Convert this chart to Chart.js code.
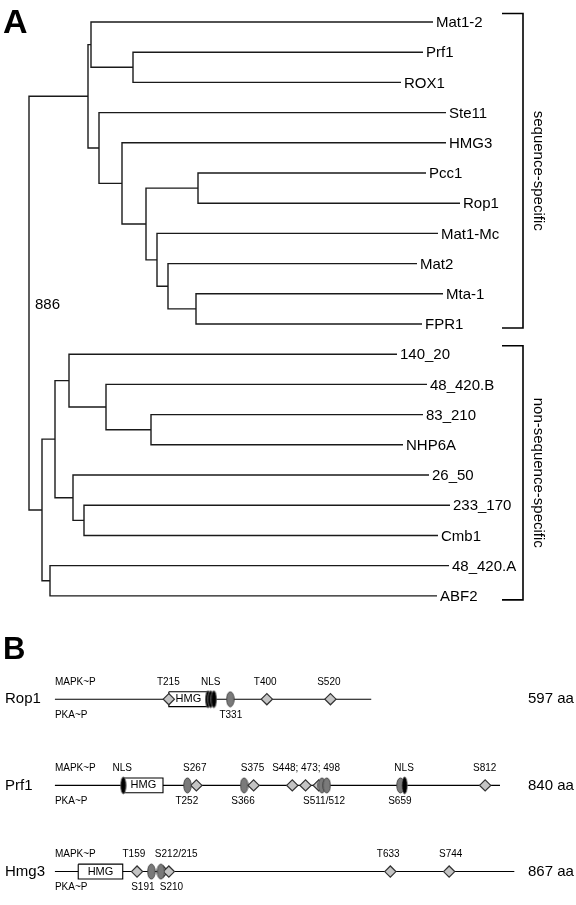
<!DOCTYPE html>
<html>
<head>
<meta charset="utf-8">
<script src="https://cdn.jsdelivr.net/npm/chart.js@4.4.1/dist/chart.umd.min.js"></script>
<style>
body { margin: 0; background: #fff; width: 576px; height: 905px; overflow: hidden; }
canvas { position: absolute; left: 0; }
</style>
</head>
<body>
<canvas id="tree" width="576" height="620" style="top:0"></canvas>
<canvas id="domains" width="576" height="285" style="top:620px"></canvas>
<script>
var FONT = "'Liberation Sans', Arial, sans-serif";

// panel A - leaves top to bottom, with distance of each tip from the root
var leafNames = ['Mat1-2', 'Prf1', 'ROX1', 'Ste11', 'HMG3', 'Pcc1', 'Rop1', 'Mat1-Mc', 'Mat2', 'Mta-1', 'FPR1',
    '140_20', '48_420.B', '83_210', 'NHP6A', '26_50', '233_170', 'Cmb1', '48_420.A', 'ABF2'];
var leafDepth = [404, 394, 372, 417, 417, 397, 431, 409, 388, 414, 393,
    368, 398, 394, 374, 400, 421, 409, 420, 408];

// internal nodes
var nodeNames = ['root', 'seq', 'a1', 'a2', 'b', 'c', 'd', 'e', 'f', 'g', 'h',
    'nonseq', 'n1', 'n2', 'n3', 'n4', 'n5', 'n6', 'n7'];
var nodeDepth = [0, 59, 62, 104, 70, 93, 117, 169, 128, 139, 167,
    13, 26, 40, 77, 122, 44, 55, 21];
var nodeKids = [['seq', 'nonseq'], ['a1', 'b'], ['Mat1-2', 'a2'], ['Prf1', 'ROX1'], ['Ste11', 'c'], ['HMG3', 'd'],
    ['e', 'f'], ['Pcc1', 'Rop1'], ['Mat1-Mc', 'g'], ['Mat2', 'h'], ['Mta-1', 'FPR1'],
    ['n1', 'n7'], ['n2', 'n5'], ['140_20', 'n3'], ['48_420.B', 'n4'], ['83_210', 'NHP6A'],
    ['26_50', 'n6'], ['233_170', 'Cmb1'], ['48_420.A', 'ABF2']];
var rootSupport = '886';

var groupNames = ['sequence-specific', 'non-sequence-specific'];
var groupFirst = ['Mat1-2', '140_20'];
var groupLast = ['FPR1', 'ABF2'];

// panel B
var proteins = ['Rop1', 'Prf1', 'Hmg3'];
var proteinLength = [597, 840, 867];
var hmgStart = [215, 130, 44];
var hmgEnd = [289, 204, 128];
var diamondSites = [[215, 400, 520], [267, 375, 448, 473, 498, 812], [155, 204, 215, 633, 744]];
var ovalSites = [[331], [250, 357, 504, 513, 652], [182, 200]];
var nlsSites = [[289, 294, 300], [129, 660], []];
var labelsAbove = [['T215', 'NLS', 'T400', 'S520'],
    ['NLS', 'S267', 'S375', 'S448; 473; 498', 'NLS', 'S812'],
    ['T159', 'S212/215', 'T633', 'S744']];
var labelsAbovePos = [[214, 294, 397, 517], [127, 264, 373, 474, 659, 811], [149, 229, 629, 747]];
var labelsBelow = [['T331'], ['T252', 'S366', 'S511/512', 'S659'], ['S191', 'S210']];
var labelsBelowPos = [[332], [249, 355, 508, 651], [166, 220]];


function place(name) {
    var li = leafNames.indexOf(name);
    if (li >= 0) return {x: leafDepth[li], y: li};
    var ni = nodeNames.indexOf(name);
    var a = place(nodeKids[ni][0]), b = place(nodeKids[ni][1]);
    return {x: nodeDepth[ni], y: (a.y + b.y) / 2};
}

var treeSets = nodeNames.map(function (n, i) {
    var a = place(nodeKids[i][0]), b = place(nodeKids[i][1]), d = nodeDepth[i];
    return {
        data: [{x: a.x, y: a.y}, {x: d, y: a.y}, {x: d, y: b.y}, {x: b.x, y: b.y}],
        showLine: true,
        borderColor: '#1a1a1a',
        borderWidth: 1.4,
        pointRadius: 0,
        tension: 0
    };
});

var treeText = {
    id: 'treeText',
    afterDatasetsDraw: function (chart) {
        var ctx = chart.ctx, xs = chart.scales.x, ys = chart.scales.y;
        ctx.save();
        ctx.fillStyle = '#000';
        ctx.font = '15px ' + FONT;
        ctx.textBaseline = 'middle';
        leafNames.forEach(function (n, i) {
            ctx.fillText(n, xs.getPixelForValue(leafDepth[i]) + 3, ys.getPixelForValue(i) + 1);
        });
        var r = place('root');
        ctx.fillText(rootSupport, xs.getPixelForValue(r.x) + 6, ys.getPixelForValue(r.y) + 2);

        // group brackets
        var bx = xs.getPixelForValue(494);
        ctx.strokeStyle = '#000';
        ctx.lineWidth = 1.6;
        groupNames.forEach(function (g, i) {
            var top = ys.getPixelForValue(leafNames.indexOf(groupFirst[i])) - 8.5;
            var bot = ys.getPixelForValue(leafNames.indexOf(groupLast[i])) + 4;
            ctx.beginPath();
            ctx.moveTo(bx - 21, top);
            ctx.lineTo(bx, top);
            ctx.lineTo(bx, bot);
            ctx.lineTo(bx - 21, bot);
            ctx.stroke();
            ctx.save();
            ctx.translate(bx + 15, (top + bot) / 2);
            ctx.rotate(Math.PI / 2);
            ctx.textAlign = 'center';
            ctx.fillText(g, 0, 0);
            ctx.restore();
        });

        ctx.font = 'bold 34px ' + FONT;
        ctx.textBaseline = 'alphabetic';
        ctx.fillText('A', 3, 33);
        ctx.restore();
    }
};

new Chart(document.getElementById('tree'), {
    type: 'scatter',
    data: {datasets: treeSets},
    options: {
        responsive: false,
        animation: false,
        events: [],
        layout: {padding: 0},
        plugins: {legend: {display: false}, tooltip: {enabled: false}},
        scales: {
            x: {type: 'linear', display: false, min: -29, max: 547},
            y: {type: 'linear', display: false, min: -0.728, max: 19.8, reverse: true}
        }
    },
    plugins: [treeText]
});


function oval(w, h, fill, stroke) {
    var c = document.createElement('canvas');
    c.width = w + 2;
    c.height = h + 2;
    var g = c.getContext('2d');
    g.beginPath();
    g.ellipse(c.width / 2, c.height / 2, w / 2, h / 2, 0, 0, 2 * Math.PI);
    g.fillStyle = fill;
    g.fill();
    g.strokeStyle = stroke;
    g.lineWidth = 0.8;
    g.stroke();
    return c;
}

function sitePoints(list) {
    var out = [];
    list.forEach(function (sites, row) {
        sites.forEach(function (p) { out.push({x: p, y: row}); });
    });
    return out;
}

var domainSets = [];
proteins.forEach(function (p, i) {
    domainSets.push({
        type: 'line',
        data: [{x: 0, y: i}, {x: proteinLength[i], y: i}],
        borderColor: '#000', borderWidth: 1.1, pointRadius: 0, order: 4
    });
    var h = 0.086;
    domainSets.push({
        type: 'line',
        data: [{x: hmgStart[i], y: i - h}, {x: hmgEnd[i], y: i - h}, {x: hmgEnd[i], y: i + h},
            {x: hmgStart[i], y: i + h}, {x: hmgStart[i], y: i - h}],
        borderColor: '#000', borderWidth: 1.1, backgroundColor: '#fff', fill: 'shape', pointRadius: 0, order: 3
    });
});
domainSets.push({
    data: sitePoints(diamondSites),
    pointStyle: 'rectRot', pointRadius: 5.6, backgroundColor: '#c4c4c4', borderColor: '#333', borderWidth: 1.2, order: 2
});
domainSets.push({
    data: sitePoints(ovalSites),
    pointStyle: oval(7.5, 15, '#7a7a7a', '#333'), pointRadius: 5, order: 1
});
domainSets.push({
    data: sitePoints(nlsSites),
    pointStyle: oval(5.5, 17, '#000', '#777'), pointRadius: 5, order: 0
});

var domainText = {
    id: 'domainText',
    afterDatasetsDraw: function (chart) {
        var ctx = chart.ctx, xs = chart.scales.x, ys = chart.scales.y;
        ctx.save();
        ctx.fillStyle = '#000';
        ctx.textBaseline = 'middle';
        proteins.forEach(function (p, i) {
            var y = ys.getPixelForValue(i);
            ctx.textAlign = 'left';
            ctx.font = '15px ' + FONT;
            ctx.fillText(p, 5, y);
            ctx.fillText(proteinLength[i] + ' aa', 528, y);

            ctx.font = '10px ' + FONT;
            ctx.fillText('MAPK~P', xs.getPixelForValue(0), y - 17);
            ctx.fillText('PKA~P', xs.getPixelForValue(0), y + 16);

            ctx.textAlign = 'center';
            labelsAbove[i].forEach(function (t, k) {
                ctx.fillText(t, xs.getPixelForValue(labelsAbovePos[i][k]), y - 17);
            });
            labelsBelow[i].forEach(function (t, k) {
                ctx.fillText(t, xs.getPixelForValue(labelsBelowPos[i][k]), y + 16);
            });

            ctx.font = '11px ' + FONT;
            ctx.fillText('HMG', xs.getPixelForValue((hmgStart[i] + hmgEnd[i]) / 2), y);
        });
        ctx.textAlign = 'left';
        ctx.textBaseline = 'alphabetic';
        ctx.font = 'bold 31px ' + FONT;
        ctx.fillText('B', 3, 39);
        ctx.restore();
    }
};

new Chart(document.getElementById('domains'), {
    type: 'scatter',
    data: {datasets: domainSets},
    options: {
        responsive: false,
        animation: false,
        events: [],
        layout: {padding: 0},
        plugins: {legend: {display: false}, tooltip: {enabled: false}},
        scales: {
            x: {type: 'linear', display: false, min: -90.8, max: 970.6},
            y: {type: 'linear', display: false, min: -0.84, max: 2.309, reverse: true}
        }
    },
    plugins: [domainText]
});
</script>
</body>
</html>
